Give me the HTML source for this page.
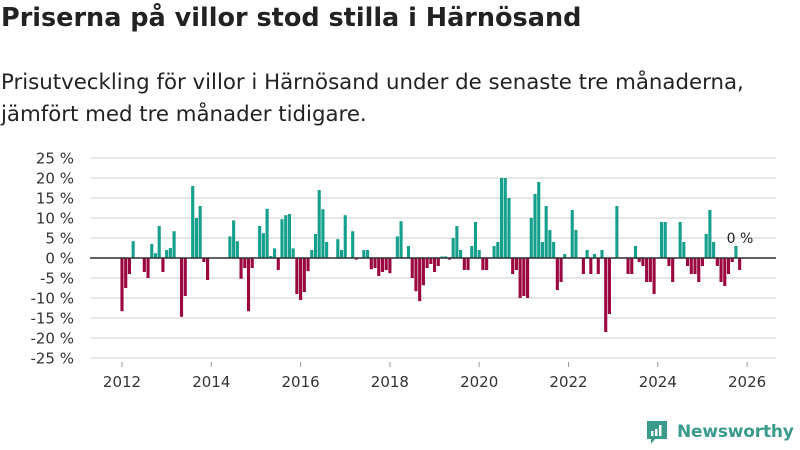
<!DOCTYPE html>
<html><head><meta charset="utf-8">
<style>
body{margin:0;background:#fff;font-family:"DejaVu Sans","Liberation Sans",sans-serif;}
#wrap{position:relative;width:800px;height:450px;overflow:hidden;}
h1{position:absolute;left:1px;top:3px;margin:0;font-size:25.5px;font-weight:bold;color:#222;}
#sub{position:absolute;left:1px;top:67px;margin:0;font-size:21.3px;line-height:32px;color:#222;}
#logo{position:absolute;left:645px;top:419px;display:flex;align-items:center;color:#3a9a8c;font-size:17px;font-weight:bold;letter-spacing:-0.2px;}
</style></head><body>
<div id="wrap">
<h1>Priserna på villor stod stilla i Härnösand</h1>
<p id="sub">Prisutveckling för villor i Härnösand under de senaste tre månaderna,<br>jämfört med tre månader tidigare.</p>
<svg id="chart" width="800" height="450" style="position:absolute;left:0;top:0"></svg>
<div id="logo">
<svg width="24" height="26" viewBox="0 0 24 26"><path d="M2 2h20v18h-12l-4 5v-5h-4z" fill="#3a9a8c"/><rect x="6" y="12" width="2.5" height="5" fill="#fff"/><rect x="10" y="10" width="2.5" height="7" fill="#fff"/><rect x="14" y="6" width="2.5" height="11" fill="#fff"/></svg>
<span style="margin-left:8px">Newsworthy</span></div>
</div>
<script>
const yTicks=[25,20,15,10,5,0,-5,-10,-15,-20,-25];
const xYears=[2012,2014,2016,2018,2020,2022,2024,2026];
const startYear=2012;
const values=[-13.3,-7.5,-4,4.2,0,0,-3.5,-5,3.5,1.2,8,-3.5,2,2.5,6.7,0,-14.7,-9.5,0,18,10,13,-1,-5.5,
0,0,0,0,0,5.4,9.4,4.2,-5.2,-2.5,-13.3,-2.5,0,8,6.2,12.3,0.5,2.4,-3,9.7,10.7,11,2.4,-9,
-10.5,-8.5,-3.3,2,6,17,12.2,4,0,0,4.7,2,10.7,0,6.7,-0.4,0,2,2,-2.8,-2.5,-4.5,-3.5,-3,
-3.8,0,5.4,9.2,0,3,-5,-8.3,-10.8,-6.8,-2.5,-1.5,-3.5,-2,0.4,0.4,-0.4,5,8,2,-3,-3,
3,9,2,-3,-3,0,3,4,20,20,15,-4,-3,-10,-9.5,-10,10,16,19,4,13,7,4,-8,
-6,1,0,12,7,0,-4,2,-4,1,-4,2,-18.5,-14,0,13,0,0,-4,-4,3,-1,-2,-6,
-6,-9,0,9,9,-2,-6,0,9,4,-2,-4,-4,-6,-2,6,12,4,-2,-6,-7,-4,-1,3,-3];
const lastLabel="0 %";
const svg=document.getElementById('chart');
const NS='http://www.w3.org/2000/svg';
const FONT='DejaVu Sans, Liberation Sans, sans-serif';
const x0=122,yearW=44.65,y0=258,pct=4;
function xScale(monthIndex){return x0+monthIndex*yearW/12;}
function yScale(v){return y0-v*pct;}
function yearX(y){return x0+(y-startYear)*yearW;}
function mk(t,a){const e=document.createElementNS(NS,t);for(const k in a)e.setAttribute(k,a[k]);svg.appendChild(e);return e;}
yTicks.forEach(t=>{
  const g=mk('line',{x1:90,x2:776,y1:yScale(t),y2:yScale(t),stroke:'#dddddd','stroke-width':1.5});
  
  
  const l=mk('text',{x:74,y:yScale(t)+5.5,'text-anchor':'end','font-size':15,fill:'#333','font-family':FONT});
  l.textContent=t+' %';
  
  
});
xYears.forEach(y=>{
  const t=mk('line',{x1:yearX(y),x2:yearX(y),y1:362,y2:367,stroke:'#999','stroke-width':1});
  
  
  const l=mk('text',{x:yearX(y),y:387,'text-anchor':'middle','font-size':15,fill:'#333','font-family':FONT});
  l.textContent=y;
  
  
});
const bw=yearW/12;
values.forEach((v,i)=>{
  if(v===0)return;
  const x=xScale(i)-bw/2+0.3;
  const y=Math.min(yScale(v),y0),h=Math.abs(v)*pct;
  const r=mk('rect',{x:x,y:y,width:bw-0.6,height:h,fill:v>0?'#15a08e':'#9b0840'});
  
  
});
const z=mk('line',{x1:90,x2:776,y1:y0,y2:y0,stroke:'#333','stroke-width':1.5});


const lastX=xScale(values.length-2);
const lab=mk('text',{x:lastX+4,y:243,'text-anchor':'middle','font-size':14,fill:'#222','font-family':FONT});
lab.textContent=lastLabel;


</script>
</body></html>
